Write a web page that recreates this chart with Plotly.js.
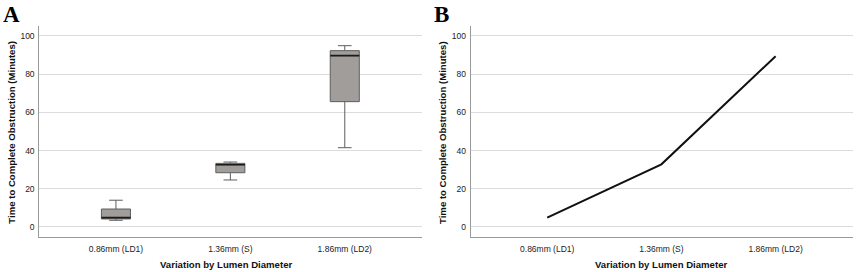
<!DOCTYPE html>
<html>
<head>
<meta charset="utf-8">
<script src="https://cdn.plot.ly/plotly-3.0.1.min.js"></script>
<style>html,body{margin:0;padding:0;background:#fff;}#chart{width:858px;height:272px;}</style>
</head>
<body>
<div id="chart"></div>
<script>
const categories = ["0.86mm (LD1)", "1.36mm (S)", "1.86mm (LD2)"];
const lowerWhisker = [3.5, 24.6, 41.5];
const q1 = [4.2, 28.4, 65.6];
const medians = [4.9, 32.6, 89.7];
const q3 = [9.4, 33.3, 92.3];
const upperWhisker = [14.0, 34.0, 94.9];
const lineValues = [4.9, 32.8, 89.4];
const yTicks = [0, 20, 40, 60, 80, 100];

const boxWidth = 0.254;

const traces = [
  {
    type: "box",
    x: categories,
    q1: q1, median: medians, q3: q3,
    lowerfence: lowerWhisker, upperfence: upperWhisker,
    width: boxWidth,
    whiskerwidth: 0.47,
    fillcolor: "#a19d9b",
    line: {color: "#5e5e5e", width: 1},
    boxpoints: false,
    hoverinfo: "skip",
    xaxis: "x", yaxis: "y",
    showlegend: false
  },
  {
    type: "scatter",
    mode: "lines",
    x: categories,
    y: lineValues,
    line: {color: "#111", width: 2},
    xaxis: "x2", yaxis: "y2",
    showlegend: false
  }
];

const shapes = medians.map((m, i) => ({
  type: "line", xref: "x", yref: "y",
  x0: i - boxWidth / 2, x1: i + boxWidth / 2, y0: m, y1: m,
  line: {color: "#1a1a1a", width: 1.6}
}));

const yDom = [0.1276, 0.9044];
const tickFont = {family: "Arial, Liberation Sans, sans-serif", size: 8.5, color: "#222"};
function xa(dom) {
  return {
    domain: dom, type: "category", range: [-0.67, 2.675],
    showgrid: false, zeroline: false, showline: true, linecolor: "#9a9a9a", linewidth: 1,
    ticks: "", tickfont: tickFont, ticklabelstandoff: 4, fixedrange: true
  };
}
function ya(anchor) {
  return {
    domain: yDom, anchor: anchor, range: [-5.4, 105.2],
    tickvals: yTicks, ticktext: yTicks.map(String),
    showgrid: true, gridcolor: "#dcdcdc", gridwidth: 1,
    zeroline: false, showline: true, linecolor: "#9a9a9a", linewidth: 1,
    ticks: "", tickfont: tickFont, ticklabelstandoff: 2, fixedrange: true
  };
}

const titleFont = {family: "Arial, Liberation Sans, sans-serif", size: 9.6, color: "#111", weight: "bold"};
const letterFont = {family: "Liberation Serif, Times New Roman, serif", size: 23, color: "#000", weight: "bold"};

const annotations = [
  {text: "<b>A</b>", x: 1/858, y: 1 - 0.5/272, xref: "paper", yref: "paper", xanchor: "left", yanchor: "top", showarrow: false, font: letterFont},
  {text: "<b>B</b>", x: 432/858, y: 1 - 0.5/272, xref: "paper", yref: "paper", xanchor: "left", yanchor: "top", showarrow: false, font: letterFont},
  {text: "<b>Time to Complete Obstruction (Minutes)</b>", x: 12/858, y: 1 - 132.7/272, xref: "paper", yref: "paper", xanchor: "center", yanchor: "middle", textangle: -90, showarrow: false, font: titleFont},
  {text: "<b>Time to Complete Obstruction (Minutes)</b>", x: 442.3/858, y: 1 - 132.7/272, xref: "paper", yref: "paper", xanchor: "center", yanchor: "middle", textangle: -90, showarrow: false, font: titleFont},
  {text: "<b>Variation by Lumen Diameter</b>", x: 225.7/858, y: 1 - 264.7/272, xref: "paper", yref: "paper", xanchor: "center", yanchor: "middle", showarrow: false, font: titleFont},
  {text: "<b>Variation by Lumen Diameter</b>", x: 660.8/858, y: 1 - 264.7/272, xref: "paper", yref: "paper", xanchor: "center", yanchor: "middle", showarrow: false, font: titleFont}
];

const layout = {
  width: 858, height: 272,
  margin: {l: 0, r: 0, t: 0, b: 0},
  paper_bgcolor: "#fff", plot_bgcolor: "#fff",
  xaxis: Object.assign(xa([39.3/858, 422/858]), {anchor: "y"}),
  yaxis: ya("x"),
  xaxis2: Object.assign(xa([470.7/858, 852.7/858]), {anchor: "y2"}),
  yaxis2: ya("x2"),
  shapes: shapes,
  annotations: annotations,
  showlegend: false
};

Plotly.newPlot("chart", traces, layout, {staticPlot: true, displayModeBar: false});
</script>
</body>
</html>
